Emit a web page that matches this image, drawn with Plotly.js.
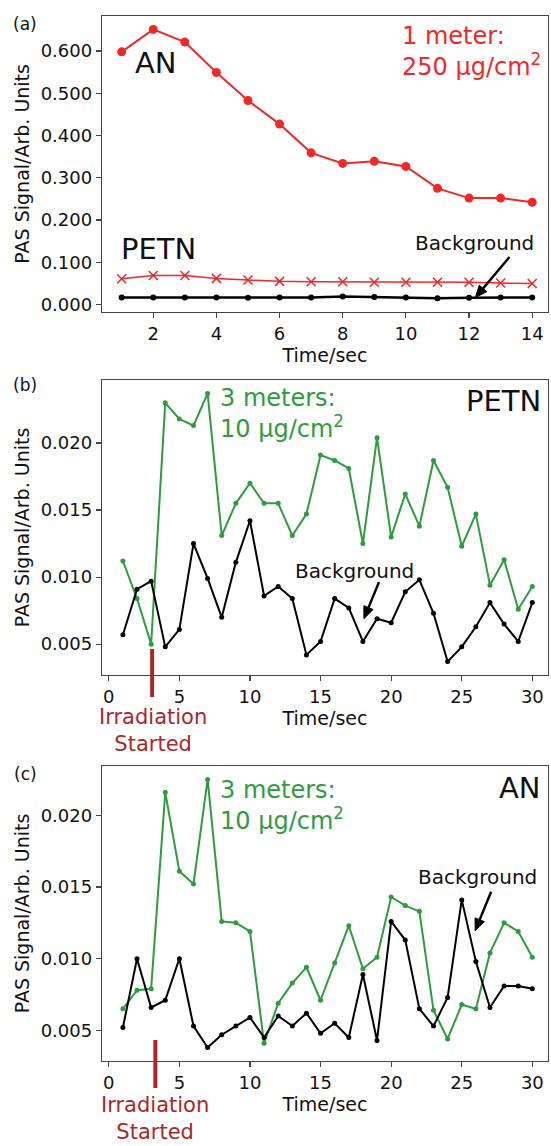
<!DOCTYPE html>
<html><head><meta charset="utf-8">
<script src="https://cdn.plot.ly/plotly-3.0.1.min.js"></script>
<style>
html,body{margin:0;padding:0;overflow:hidden;background:#fff;width:551px;height:1146px}
#chart{width:551px;height:1146px}
</style>
</head><body><div id="chart"></div>
<script>
// ---------- data ----------
const timeA = [1,2,3,4,5,6,7,8,9,10,11,12,13,14];
const anA   = [0.598,0.651,0.621,0.549,0.483,0.427,0.359,0.334,0.339,0.327,0.275,0.252,0.252,0.242];
const petnA = [0.061,0.069,0.069,0.062,0.058,0.055,0.054,0.054,0.053,0.053,0.053,0.053,0.051,0.050];
const bgA   = [0.017,0.017,0.017,0.017,0.016,0.017,0.017,0.019,0.018,0.017,0.015,0.016,0.017,0.017];

const timeBC = [1,2,3,4,5,6,7,8,9,10,11,12,13,14,15,16,17,18,19,20,21,22,23,24,25,26,27,28,29,30];
const petnB = [0.0112,0.0084,0.0050,0.0230,0.0218,0.0213,0.0237,0.0131,0.0155,0.0170,0.0155,0.0155,0.0131,0.0147,0.0191,0.0187,0.0181,0.0125,0.0204,0.0130,0.0162,0.0138,0.0187,0.0167,0.0123,0.0147,0.0094,0.0113,0.0076,0.0093];
const bgB   = [0.0057,0.0091,0.0097,0.0048,0.0061,0.0125,0.0099,0.0070,0.0111,0.0142,0.0086,0.0093,0.0084,0.0042,0.0052,0.0084,0.0077,0.0052,0.0069,0.0066,0.0089,0.0098,0.0073,0.0037,0.0048,0.0063,0.0081,0.0065,0.0052,0.0081];
const anC   = [0.0065,0.0078,0.0079,0.0216,0.0161,0.0152,0.0225,0.0126,0.0125,0.0119,0.0041,0.0069,0.0083,0.0094,0.0071,0.0097,0.0123,0.0093,0.0101,0.0143,0.0137,0.0133,0.0064,0.0044,0.0068,0.0065,0.0104,0.0125,0.0119,0.0101];
const bgC   = [0.0052,0.0100,0.0066,0.0071,0.0100,0.0053,0.0038,0.0047,0.0053,0.0059,0.0045,0.0060,0.0053,0.0062,0.0048,0.0055,0.0045,0.0089,0.0043,0.0126,0.0113,0.0065,0.0053,0.0073,0.0141,0.0098,0.0066,0.0081,0.0081,0.0079];

const ticksXA = [2,4,6,8,10,12,14];
const ticksYA = [0,0.1,0.2,0.3,0.4,0.5,0.6];
const ticksXBC = [0,5,10,15,20,25,30];
const ticksYBC = [0.005,0.010,0.015,0.020];

const irradiationB = 3.07;
const irradiationC = 3.3;

// ---------- style ----------
const FONT = 'DejaVu Sans';
const RED = '#f02828';
const GREEN = '#2e9b3e';
const DARKRED = '#a8282a';
const INK = '#111111';

const W = 551, H = 1146, ML = 101.5, MR = 3;
const plotW = W - ML - MR;
const pp = v => 1 - v/H;   // pixel row -> paper fraction

function pad(arrs, frac){
  const all = [].concat(...arrs);
  const lo = Math.min(...all), hi = Math.max(...all), m = (hi-lo)*frac;
  return [lo-m, hi+m];
}

const rangeXA = [0.377, 14.5];
const rangeXBC = [-0.48, 31.11];
const domA = [pp(311.7), pp(16)];
const domB = [pp(675), pp(380)];
const domC = [pp(1061), pp(766)];
const rangeYA = pad([anA,petnA,bgA],0.05);
const rangeYB = pad([petnB,bgB],0.05);
const rangeYC = pad([anC,bgC],0.05);

const traces = [
  {x:timeA, y:anA, xaxis:'x', yaxis:'y', mode:'lines+markers', line:{color:RED,width:2}, marker:{color:RED,size:9}},
  {x:timeA, y:petnA, xaxis:'x', yaxis:'y', mode:'lines+markers', line:{color:RED,width:1.5}, marker:{color:RED,size:9,symbol:'x-thin-open',line:{color:RED,width:1.5}}},
  {x:timeA, y:bgA, xaxis:'x', yaxis:'y', mode:'lines+markers', line:{color:'#000',width:2.5}, marker:{color:'#000',size:6}},
  {x:timeBC, y:petnB, xaxis:'x2', yaxis:'y2', mode:'lines+markers', line:{color:GREEN,width:2}, marker:{color:GREEN,size:5}},
  {x:timeBC, y:bgB, xaxis:'x2', yaxis:'y2', mode:'lines+markers', line:{color:'#000',width:2}, marker:{color:'#000',size:5}},
  {x:timeBC, y:anC, xaxis:'x3', yaxis:'y3', mode:'lines+markers', line:{color:GREEN,width:2}, marker:{color:GREEN,size:5}},
  {x:timeBC, y:bgC, xaxis:'x3', yaxis:'y3', mode:'lines+markers', line:{color:'#000',width:2}, marker:{color:'#000',size:5}}
];

const axBase = {
  showline:true, linecolor:'#444', linewidth:1.2, mirror:true,
  ticks:'outside', ticklen:5, tickwidth:1.2, tickcolor:'#444',
  showgrid:false, zeroline:false, fixedrange:true,
  tickfont:{family:FONT,size:18,color:INK}
};
function xax(range, ticks, anchor){
  return Object.assign({}, axBase, {range:range, tickmode:'array', tickvals:ticks, anchor:anchor,
    domain:[0,1], title:{text:'Time/sec', font:{family:FONT,size:19,color:INK}, standoff:6}});
}
function yax(range, ticks, dom, anchor){
  return Object.assign({}, axBase, {range:range, tickmode:'array', tickvals:ticks, tickformat:'.3f', domain:dom, anchor:anchor,
    title:{text:'PAS Signal/Arb. Units', font:{family:FONT,size:19,color:INK}, standoff:6}});
}

// arrow (matplotlib-style, filled head) as shapes anchored at the head point
function arrow(xref, yref, xr, yr, dom, head, tail){
  const sx = plotW/(xr[1]-xr[0]);
  const sy = (dom[1]-dom[0])*H/(yr[1]-yr[0]);
  const dx = (tail[0]-head[0])*sx, dy = (tail[1]-head[1])*sy;
  const len = Math.hypot(dx,dy), ux = dx/len, uy = dy/len;
  const L = 12, Wd = 5;
  const bx = ux*L, by = uy*L, px = -uy*Wd, py = ux*Wd;
  const common = {xref:xref, yref:yref, xsizemode:'pixel', ysizemode:'pixel', xanchor:head[0], yanchor:head[1]};
  return [
    Object.assign({type:'path', path:`M${bx.toFixed(2)},${by.toFixed(2)} L${dx.toFixed(2)},${dy.toFixed(2)}`, line:{color:'#000',width:2.4}}, common),
    Object.assign({type:'path', path:`M0,0 L${(bx+px).toFixed(2)},${(by+py).toFixed(2)} L${(bx-px).toFixed(2)},${(by-py).toFixed(2)} Z`, fillcolor:'#000', line:{color:'#000',width:1}}, common)
  ];
}

const irrFont = {family:FONT,size:21,color:DARKRED};

const layout = {
  width:W, height:H,
  margin:{l:ML, r:MR, t:0, b:0},
  paper_bgcolor:'#fff', plot_bgcolor:'#fff',
  showlegend:false,
  font:{family:FONT, color:INK},
  xaxis: xax(rangeXA, ticksXA, 'y'),
  yaxis: yax(rangeYA, ticksYA, domA, 'x'),
  xaxis2: xax(rangeXBC, ticksXBC, 'y2'),
  yaxis2: yax(rangeYB, ticksYBC, domB, 'x2'),
  xaxis3: xax(rangeXBC, ticksXBC, 'y3'),
  yaxis3: yax(rangeYC, ticksYBC, domC, 'x3'),
  shapes:[
    {type:'line', xref:'x2', yref:'paper', x0:irradiationB, x1:irradiationB, y0:pp(697), y1:pp(649), line:{color:DARKRED,width:4}},
    {type:'line', xref:'x3', yref:'paper', x0:irradiationC, x1:irradiationC, y0:pp(1088), y1:pp(1040), line:{color:DARKRED,width:4}},
    ...arrow('x','y', rangeXA, rangeYA, domA, [12.2,0.0166], [13.28,0.1128]),
    ...arrow('x2','y2', rangeXBC, rangeYB, domB, [18.07,0.0069], [19.14,0.00963]),
    ...arrow('x3','y3', rangeXBC, rangeYC, domC, [25.95,0.01194], [27.08,0.01467])
  ],
  annotations:[
    // panel labels
    {xref:'paper', yref:'paper', x:-0.172, y:pp(24), text:'(a)', showarrow:false, font:{family:FONT,size:17,color:INK}, xanchor:'center', yanchor:'middle'},
    {xref:'paper', yref:'paper', x:-0.172, y:pp(385), text:'(b)', showarrow:false, font:{family:FONT,size:17,color:INK}, xanchor:'center', yanchor:'middle'},
    {xref:'paper', yref:'paper', x:-0.172, y:pp(774), text:'(c)', showarrow:false, font:{family:FONT,size:17,color:INK}, xanchor:'center', yanchor:'middle'},
    // panel a
    {xref:'x', yref:'y', x:1.36, y:0.572, text:'AN', showarrow:false, font:{family:FONT,size:29,color:INK}, xanchor:'left', yanchor:'middle'},
    {xref:'x', yref:'y', x:0.92, y:0.131, text:'PETN', showarrow:false, font:{family:FONT,size:29,color:INK}, xanchor:'left', yanchor:'middle'},
    {xref:'x', yref:'y', x:9.82, y:0.674, text:'1 meter:<br>250 μg/cm<sup>2</sup>', align:'left', showarrow:false, font:{family:FONT,size:24,color:RED}, xanchor:'left', yanchor:'top'},
    {xref:'x', yref:'y', x:12.16, y:0.145, text:'Background', showarrow:false, font:{family:FONT,size:20,color:INK}, xanchor:'center', yanchor:'middle'},
    // panel b
    {xref:'x2', yref:'y2', x:7.76, y:0.02453, text:'3 meters:<br>10 μg/cm<sup>2</sup>', align:'left', showarrow:false, font:{family:FONT,size:24,color:GREEN}, xanchor:'left', yanchor:'top'},
    {xref:'x2', yref:'y2', x:30.76, y:0.02312, text:'PETN', showarrow:false, font:{family:FONT,size:29,color:INK}, xanchor:'right', yanchor:'middle'},
    {xref:'x2', yref:'y2', x:17.39, y:0.01047, text:'Background', showarrow:false, font:{family:FONT,size:20,color:INK}, xanchor:'center', yanchor:'middle'},
    {xref:'x2', yref:'paper', x:3.16, y:pp(703), text:'Irradiation<br>Started', showarrow:false, font:irrFont, xanchor:'center', yanchor:'top'},
    // panel c
    {xref:'x3', yref:'y3', x:7.76, y:0.02285, text:'3 meters:<br>10 μg/cm<sup>2</sup>', align:'left', showarrow:false, font:{family:FONT,size:24,color:GREEN}, xanchor:'left', yanchor:'top'},
    {xref:'x3', yref:'y3', x:30.76, y:0.02187, text:'AN', showarrow:false, font:{family:FONT,size:29,color:INK}, xanchor:'right', yanchor:'middle'},
    {xref:'x3', yref:'y3', x:26.13, y:0.0157, text:'Background', showarrow:false, font:{family:FONT,size:20,color:INK}, xanchor:'center', yanchor:'middle'},
    {xref:'x3', yref:'paper', x:3.28, y:pp(1146), text:'Irradiation<br>Started', showarrow:false, font:irrFont, xanchor:'center', yanchor:'bottom'}
  ]
};

Plotly.newPlot('chart', traces, layout, {displayModeBar:false, staticPlot:true});
</script>
</body></html>
